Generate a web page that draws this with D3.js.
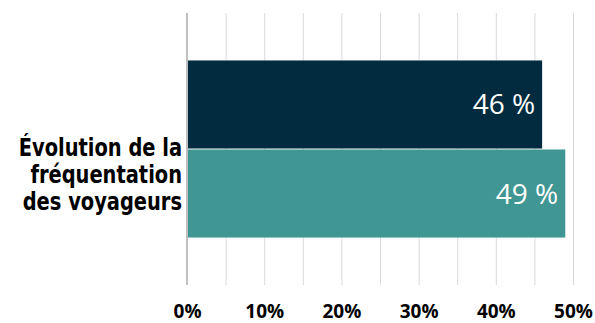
<!DOCTYPE html>
<html><head><meta charset="utf-8">
<script src="https://cdn.jsdelivr.net/npm/d3@7"></script>
<style>body{margin:0;background:#fff}svg{display:block}</style>
</head><body>
<svg id="c" width="595" height="323"></svg>
<script>
const categories = ["Évolution de la fréquentation des voyageurs"];
const categoryLines = ["Évolution de la", "fréquentation", "des voyageurs"];
const seriesNames = ["Série 1", "Série 2"];
const seriesValues = [46, 49];
const seriesColors = ["#022b3f", "#3f9692"];
const tickValues = [0, 10, 20, 30, 40, 50];
const gridValues = [0, 5, 10, 15, 20, 25, 30, 35, 40, 45, 50];

const svg = d3.select("#c");
const x = d3.scaleLinear().domain([0, 50]).range([187, 573]);
const yCat = d3.scaleBand().domain(categories).range([13, 285]);
const ySer = d3.scaleBand().domain(seriesNames).range([0, yCat.bandwidth()]).paddingInner(0.011).paddingOuter(0.533);

// gridlines
svg.append("g").selectAll("line").data(gridValues.filter(d => d > 0)).join("line")
  .attr("x1", d => x(d) + 0.5).attr("x2", d => x(d) + 0.5)
  .attr("y1", 13).attr("y2", 285)
  .attr("stroke", "#d9d9d9").attr("stroke-width", 1);

// bars
const data = seriesNames.map((s, i) => ({s, v: seriesValues[i], c: seriesColors[i]}));
const cat = categories[0];
svg.append("g").selectAll("rect").data(data).join("rect")
  .attr("x", x(0)).attr("width", d => x(d.v) - x(0))
  .attr("y", d => yCat(cat) + ySer(d.s)).attr("height", ySer.bandwidth())
  .attr("fill", d => d.c);

// value labels
svg.append("g").selectAll("text").data(data).join("text")
  .attr("x", d => x(d.v) - 7)
  .attr("y", d => yCat(cat) + ySer(d.s) + ySer.bandwidth() / 2 + 10)
  .attr("text-anchor", "end")
  .attr("fill", "#fff")
  .style("font-family", "'Open Sans', 'Noto Sans', sans-serif")
  .style("font-size", "28px")
  .text(d => d.v + " %");

// axis line
svg.append("line").attr("x1", x(0)).attr("x2", x(0)).attr("y1", 13).attr("y2", 285)
  .attr("stroke", "#bfbfbf").attr("stroke-width", 2);

// x axis tick labels
const xAxis = d3.axisBottom(x).tickValues(tickValues).tickFormat(d => d + "%").tickSize(0).tickPadding(0);
const gx = svg.append("g").attr("transform", "translate(0,304)").call(xAxis);
gx.select(".domain").remove();
gx.selectAll("text")
  .attr("dy", "0.71em")
  .attr("fill", "#000")
  .style("font-family", "'Open Sans', sans-serif")
  .style("font-weight", "700")
  .style("font-size", "19px");

// category label
const lbl = svg.append("text")
  .attr("text-anchor", "end")
  .attr("transform", "translate(182,0) scale(0.9,1)")
  .style("font-family", "'DejaVu Sans Condensed', 'Liberation Sans Narrow', sans-serif")
  .style("font-weight", "700")
  .style("font-size", "24px")
  .attr("fill", "#000");
lbl.selectAll("tspan").data(categoryLines).join("tspan")
  .attr("x", 0).attr("y", (d, i) => 156 + i * 27).text(d => d);
</script>
</body></html>
